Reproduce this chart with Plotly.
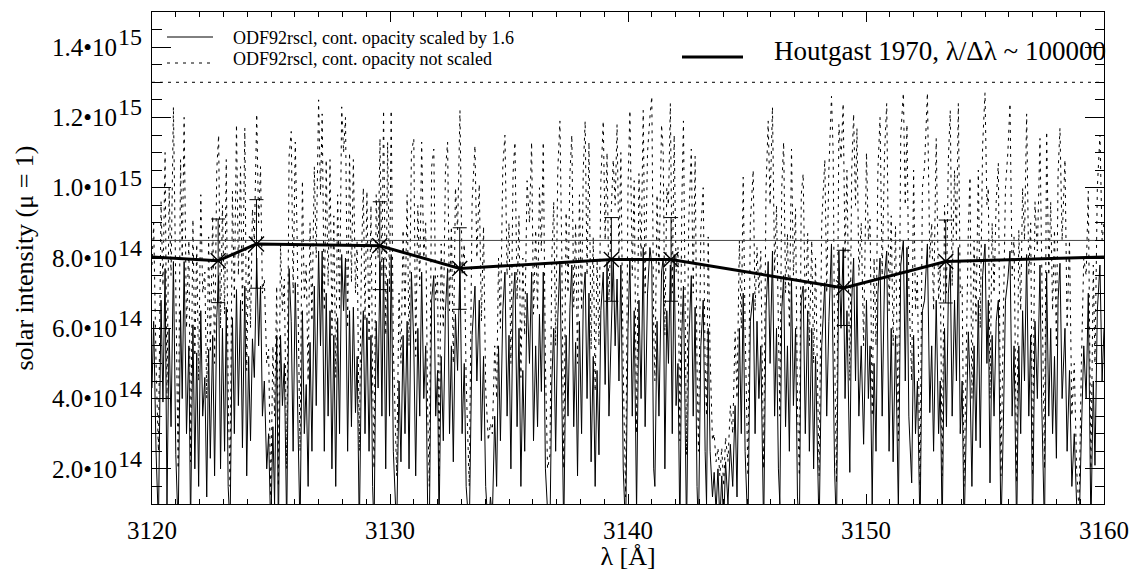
import numpy as np
import plotly.graph_objects as go

# ---------------------------------------------------------------
# Synthetic spectrum (turning points), intensities in units of 1e14
# wl_*: wavelength [Angstrom]; sc_*: cont. opacity scaled by 1.6;
# un_*: cont. opacity not scaled
# ---------------------------------------------------------------
wl_a = [3120.00, 3120.07, 3120.17, 3120.27, 3120.38, 3120.46, 3120.55, 3120.63, 3120.72, 3120.80,
        3120.90, 3121.00, 3121.10, 3121.20, 3121.27, 3121.35, 3121.45, 3121.55, 3121.62, 3121.72,
        3121.80, 3121.88, 3121.96, 3122.05, 3122.13, 3122.22, 3122.30, 3122.38, 3122.45, 3122.55,
        3122.63, 3122.72, 3122.80, 3122.88, 3122.96, 3123.05, 3123.12, 3123.20, 3123.28, 3123.38,
        3123.46, 3123.55, 3123.63, 3123.72, 3123.80, 3123.90, 3123.98, 3124.06, 3124.14, 3124.22,
        3124.30, 3124.40, 3124.48, 3124.56, 3124.64, 3124.72, 3124.82, 3124.90, 3124.99, 3125.08,
        3125.15, 3125.24, 3125.31, 3125.40, 3125.48, 3125.56, 3125.66, 3125.76, 3125.85, 3125.93,
        3126.02, 3126.10, 3126.22, 3126.32, 3126.40, 3126.48, 3126.56, 3126.64, 3126.72, 3126.82,
        3126.90, 3127.00, 3127.08, 3127.15, 3127.24, 3127.32, 3127.40, 3127.48, 3127.56, 3127.64,
        3127.72, 3127.80, 3127.88, 3127.97, 3128.05, 3128.13, 3128.22, 3128.30, 3128.38, 3128.46,
        3128.55, 3128.62, 3128.71, 3128.80, 3128.88, 3128.95, 3129.03, 3129.12, 3129.20, 3129.27,
        3129.33, 3129.42, 3129.50, 3129.58, 3129.66, 3129.73, 3129.82, 3129.90, 3129.98, 3130.05,
        3130.14, 3130.28]
sc_a = [4.3, 6.2, 2.5, 0.4, 6.8, 3.9, 7.7, 1.0, 6.0, 3.2,
        7.9, 2.4, 0.3, 6.5, 4.0, 7.9, 3.0, 5.5, 0.3, 6.1,
        2.0, 5.3, 1.5, 6.5, 3.5, 4.6, 1.2, 5.4, 2.3, 5.8,
        1.8, 6.3, 7.5, 2.0, 6.0, 2.5, 6.6, 1.5, 0.3, 6.3,
        3.0, 7.1, 3.8, 6.8, 2.6, 7.2, 1.8, 5.2, 2.8, 5.7,
        4.6, 8.0, 5.5, 7.2, 3.5, 4.5, 2.0, 3.0, 0.2, 3.2,
        1.0, 5.8, 0.2, 5.8, 3.8, 5.0, 0.3, 7.7, 6.2, 2.5,
        7.3, 4.0, 0.2, 6.5, 3.0, 4.4, 1.5, 5.6, 2.5, 7.2,
        3.8, 8.2, 5.5, 8.2, 2.5, 7.0, 3.5, 6.5, 2.0, 5.8,
        1.5, 6.3, 3.0, 8.1, 6.5, 8.0, 2.5, 6.5, 3.2, 6.6,
        3.6, 5.2, 0.2, 5.0, 6.5, 3.0, 6.3, 2.5, 5.8, 1.5,
        0.2, 6.2, 4.3, 7.9, 3.5, 8.0, 2.0, 7.4, 3.5, 8.1,
        2.5, 0.2]
un_a = [7.8, 9.0, 5.0, 2.5, 9.6, 7.2, 11.0, 4.0, 10.0, 7.5,
        12.3, 6.5, 2.0, 10.8, 8.0, 12.0, 6.0, 8.5, 2.2, 9.1,
        5.2, 8.4, 4.5, 9.8, 7.0, 7.6, 4.0, 8.6, 5.3, 9.2,
        5.0, 10.5, 11.5, 6.0, 9.5, 6.4, 10.8, 4.2, 1.5, 9.9,
        6.8, 11.8, 7.5, 10.6, 6.5, 11.7, 4.8, 8.2, 6.0, 9.4,
        8.5, 12.1, 9.0, 10.6, 7.0, 7.4, 5.0, 5.4, 1.2, 5.5,
        3.5, 7.2, 1.5, 8.4, 6.5, 7.4, 2.0, 10.9, 11.6, 7.0,
        11.3, 8.5, 2.5, 10.2, 6.8, 7.8, 4.5, 9.0, 6.2, 10.6,
        8.0, 12.5, 9.8, 12.1, 6.5, 10.8, 7.2, 10.8, 5.8, 9.2,
        4.6, 9.8, 6.5, 12.3, 11.0, 12.0, 6.0, 11.0, 7.3, 10.8,
        7.0, 8.5, 2.5, 8.0, 10.0, 6.2, 9.9, 5.6, 9.5, 4.5,
        2.0, 9.8, 8.0, 11.4, 7.5, 12.2, 5.8, 11.3, 7.0, 12.2,
        5.5, 1.8]

wl_b = [3130.38, 3130.46, 3130.55, 3130.63, 3130.72, 3130.80, 3130.90, 3131.00, 3131.08, 3131.17,
        3131.25, 3131.33, 3131.42, 3131.50, 3131.58, 3131.65, 3131.75, 3131.84, 3131.92, 3132.00,
        3132.06, 3132.15, 3132.24, 3132.33, 3132.42, 3132.50, 3132.58, 3132.66, 3132.75, 3132.84,
        3132.94, 3133.03, 3133.12, 3133.20, 3133.33, 3133.45, 3133.57, 3133.65, 3133.75, 3133.84,
        3133.93, 3134.02, 3134.13, 3134.22, 3134.30, 3134.40, 3134.48, 3134.56, 3134.64, 3134.74,
        3134.83, 3134.92, 3135.00, 3135.08, 3135.17, 3135.25, 3135.34, 3135.42, 3135.50, 3135.58,
        3135.66, 3135.76, 3135.86, 3135.95, 3136.03, 3136.12, 3136.20, 3136.28, 3136.36, 3136.44,
        3136.53, 3136.62, 3136.72, 3136.80, 3136.88, 3136.96, 3137.05, 3137.14, 3137.22, 3137.30,
        3137.40, 3137.48, 3137.56, 3137.64, 3137.72, 3137.80, 3137.88, 3137.96, 3138.05, 3138.12,
        3138.20, 3138.28, 3138.36, 3138.45, 3138.54, 3138.62, 3138.70, 3138.78, 3138.86, 3138.96,
        3139.04, 3139.12, 3139.20, 3139.30, 3139.38, 3139.46, 3139.54, 3139.62, 3139.70, 3139.80,
        3139.90, 3140.00, 3140.08]
sc_b = [4.5, 2.2, 5.8, 3.0, 6.2, 2.0, 7.6, 5.5, 1.8, 6.0,
        3.5, 7.6, 4.0, 5.5, 1.0, 0.2, 6.8, 7.5, 3.5, 4.8,
        0.3, 5.2, 2.8, 6.5, 7.7, 3.0, 5.5, 2.2, 6.4, 4.8,
        7.9, 3.0, 5.0, 1.5, 0.2, 5.8, 7.2, 4.5, 6.8, 2.8,
        5.2, 1.5, 0.2, 1.2, 0.6, 3.5, 1.5, 5.5, 2.8, 6.5,
        7.6, 3.5, 5.8, 2.0, 6.8, 7.6, 3.2, 6.0, 1.5, 4.8,
        2.5, 7.0, 5.0, 7.6, 2.8, 5.5, 3.2, 6.4, 4.2, 7.6,
        2.0, 0.8, 0.2, 4.5, 6.0, 2.5, 6.3, 7.9, 4.0, 0.2,
        5.8, 3.5, 6.6, 7.8, 3.2, 5.6, 1.8, 6.2, 3.0, 6.8,
        7.6, 4.0, 7.0, 2.2, 5.2, 1.5, 4.8, 2.4, 6.5, 7.6,
        4.4, 7.9, 3.5, 6.0, 8.0, 5.5, 7.4, 4.5, 7.8, 2.0,
        0.2, 6.0, 8.0]
un_b = [7.0, 5.0, 8.8, 6.3, 9.8, 5.5, 11.0, 11.4, 5.2, 9.5,
        7.2, 11.3, 8.0, 9.0, 3.8, 1.5, 10.6, 11.1, 6.8, 7.5,
        1.8, 8.4, 6.0, 10.5, 11.3, 6.5, 8.9, 5.0, 10.0, 8.8,
        12.2, 7.5, 8.4, 4.5, 1.5, 9.6, 11.2, 8.0, 10.1, 6.2,
        8.9, 4.3, 2.8, 3.3, 3.0, 5.5, 4.0, 8.0, 6.0, 10.6,
        11.5, 7.5, 9.0, 5.0, 10.4, 11.3, 6.8, 9.2, 4.6, 8.0,
        5.8, 10.2, 9.0, 11.3, 6.4, 8.8, 6.5, 10.0, 8.2, 11.3,
        5.0, 2.0, 2.4, 8.0, 9.6, 5.5, 10.5, 11.9, 8.0, 2.0,
        9.3, 7.0, 10.4, 11.5, 6.6, 9.0, 5.0, 9.8, 6.5, 10.5,
        11.9, 7.5, 11.3, 5.4, 8.6, 4.2, 8.0, 5.5, 10.2, 11.9,
        8.5, 11.0, 6.8, 9.4, 10.8, 9.5, 11.8, 8.0, 11.0, 4.8,
        1.2, 10.0, 12.2]

wl_c = [3140.18, 3140.26, 3140.36, 3140.46, 3140.55, 3140.64, 3140.72, 3140.82, 3140.92, 3141.00,
        3141.08, 3141.13, 3141.22, 3141.30, 3141.41, 3141.48, 3141.55, 3141.63, 3141.70, 3141.78,
        3141.86, 3141.94, 3142.02, 3142.10, 3142.18, 3142.26, 3142.33, 3142.40, 3142.46, 3142.55,
        3142.66, 3142.74, 3142.82, 3142.90, 3142.96, 3143.06, 3143.16, 3143.24, 3143.30, 3143.37,
        3143.45, 3143.55, 3143.62, 3143.70, 3143.78, 3143.86, 3143.94, 3144.02, 3144.10, 3144.20,
        3144.30, 3144.40, 3144.50, 3144.58, 3144.68, 3144.76, 3144.84, 3144.92, 3145.04, 3145.14,
        3145.26, 3145.34, 3145.42, 3145.50, 3145.58, 3145.70, 3145.80, 3145.89, 3145.97, 3146.07,
        3146.16, 3146.24, 3146.32, 3146.38, 3146.46, 3146.54, 3146.62, 3146.70, 3146.78, 3146.87,
        3146.95, 3147.04, 3147.12, 3147.20, 3147.28, 3147.36, 3147.45, 3147.55, 3147.62, 3147.72,
        3147.80, 3147.88, 3148.03, 3148.14, 3148.27, 3148.35, 3148.44, 3148.55, 3148.62, 3148.68,
        3148.76, 3148.86, 3148.95, 3149.04, 3149.12, 3149.20, 3149.32, 3149.40, 3149.48, 3149.56,
        3149.62, 3149.70, 3149.80, 3149.90, 3150.02, 3150.10, 3150.17]
sc_c = [3.5, 6.5, 0.8, 6.8, 4.0, 8.3, 3.2, 7.0, 8.3, 7.8,
        2.0, 1.5, 6.2, 3.5, 7.6, 8.0, 2.0, 6.5, 5.0, 7.8,
        3.0, 8.1, 3.8, 5.0, 0.2, 5.8, 7.2, 3.5, 0.2, 5.5,
        7.5, 3.5, 6.6, 1.5, 0.2, 5.5, 6.8, 2.5, 1.0, 6.0,
        2.5, 1.2, 1.9, 0.8, 2.0, 0.5, 1.8, 0.4, 2.2, 1.0,
        2.7, 1.5, 3.8, 1.2, 6.0, 3.0, 7.0, 2.5, 0.2, 6.2,
        7.0, 3.0, 6.2, 4.0, 5.5, 0.2, 6.5, 7.9, 5.0, 8.2,
        3.5, 6.0, 2.0, 1.0, 6.5, 7.5, 3.2, 5.5, 2.5, 7.4,
        3.8, 6.0, 1.2, 0.2, 6.8, 7.2, 3.0, 6.5, 2.5, 6.0,
        2.0, 5.2, 0.2, 5.5, 7.3, 3.5, 6.2, 8.4, 5.5, 2.0,
        0.2, 8.2, 6.0, 8.3, 4.0, 6.5, 1.9, 6.8, 8.0, 4.5,
        7.2, 3.5, 5.5, 2.7, 6.8, 4.0, 5.5]
un_c = [7.5, 10.2, 3.0, 10.4, 8.0, 12.2, 7.0, 11.0, 12.0, 12.6,
        6.0, 4.5, 9.8, 7.5, 11.8, 11.0, 5.8, 10.0, 9.5, 12.4,
        7.0, 11.5, 7.6, 8.3, 2.8, 9.5, 11.9, 7.5, 2.4, 9.0,
        11.1, 7.0, 10.9, 5.0, 2.5, 8.8, 10.0, 5.0, 3.5, 8.6,
        5.2, 2.8, 3.0, 2.2, 2.6, 1.8, 2.6, 1.5, 2.9, 2.2,
        3.8, 3.0, 5.9, 4.0, 8.5, 6.0, 10.3, 6.0, 1.8, 9.0,
        10.5, 6.5, 8.3, 7.0, 8.2, 2.0, 10.0, 11.9, 9.5, 12.3,
        7.6, 9.5, 5.5, 3.5, 10.0, 11.3, 7.0, 8.7, 6.0, 11.1,
        7.5, 9.4, 3.8, 1.8, 9.8, 10.4, 6.5, 8.7, 5.5, 8.5,
        5.0, 8.0, 1.8, 9.0, 10.8, 7.0, 10.5, 12.6, 11.0, 5.5,
        1.6, 11.8, 10.8, 12.4, 8.0, 10.5, 4.5, 10.5, 12.1, 9.5,
        11.7, 7.5, 9.0, 5.5, 11.0, 8.5, 9.1]

wl_d = [3150.26, 3150.34, 3150.42, 3150.50, 3150.59, 3150.68, 3150.78, 3150.87, 3150.97, 3151.06,
        3151.14, 3151.24, 3151.36, 3151.46, 3151.57, 3151.65, 3151.72, 3151.80, 3151.92, 3152.00,
        3152.08, 3152.16, 3152.27, 3152.37, 3152.46, 3152.58, 3152.68, 3152.76, 3152.84, 3152.95,
        3153.05, 3153.12, 3153.20, 3153.30, 3153.38, 3153.46, 3153.54, 3153.62, 3153.72, 3153.80,
        3153.88, 3153.96, 3154.04, 3154.12, 3154.20, 3154.30, 3154.37, 3154.45, 3154.54, 3154.62,
        3154.72, 3154.80, 3154.90, 3155.00, 3155.08, 3155.14, 3155.21, 3155.30, 3155.38, 3155.47,
        3155.56, 3155.67, 3155.77, 3155.86, 3155.96, 3156.05, 3156.14, 3156.22, 3156.33, 3156.42,
        3156.50, 3156.58, 3156.66, 3156.75, 3156.84, 3156.92, 3157.00, 3157.10, 3157.20, 3157.31,
        3157.38, 3157.45, 3157.50, 3157.59, 3157.68, 3157.76, 3157.84, 3157.92, 3158.00, 3158.07,
        3158.15, 3158.24, 3158.36, 3158.45, 3158.55, 3158.65, 3158.75, 3158.85, 3158.95, 3159.05,
        3159.15, 3159.25, 3159.34, 3159.45, 3159.55, 3159.62, 3159.72, 3159.83, 3159.92, 3160.00]
sc_d = [1.0, 5.0, 2.5, 7.0, 8.0, 3.5, 7.5, 8.2, 2.5, 6.0,
        2.2, 5.8, 0.8, 7.8, 8.5, 4.5, 8.3, 3.5, 1.6, 5.8,
        3.0, 4.5, 0.2, 6.5, 6.8, 8.4, 3.6, 5.5, 2.5, 6.8,
        3.0, 4.5, 0.2, 6.0, 3.2, 7.0, 7.8, 3.5, 6.8, 4.5,
        8.3, 3.0, 4.5, 0.2, 3.0, 5.9, 4.5, 1.5, 5.5, 2.8,
        6.8, 2.6, 7.5, 8.4, 5.0, 6.8, 1.6, 5.8, 3.5, 6.2,
        6.8, 0.2, 3.2, 6.8, 7.4, 8.2, 3.5, 5.5, 0.2, 5.5,
        3.0, 6.5, 4.5, 8.1, 3.5, 5.8, 0.2, 6.2, 4.0, 7.8,
        4.0, 1.5, 0.2, 7.6, 3.5, 6.0, 3.0, 5.2, 2.3, 6.8,
        7.85, 4.0, 6.0, 2.5, 4.8, 1.5, 3.0, 1.0, 0.2, 3.0,
        5.5, 4.0, 7.0, 0.3, 4.5, 2.1, 6.5, 7.8, 4.5, 6.0]
un_d = [3.5, 8.0, 5.5, 10.5, 12.0, 7.5, 11.0, 12.4, 6.5, 9.2,
        5.5, 8.9, 2.8, 11.5, 12.7, 9.5, 11.8, 7.2, 4.5, 10.5,
        6.5, 7.5, 1.5, 10.0, 10.6, 12.7, 8.0, 9.0, 6.5, 11.4,
        6.8, 7.8, 1.8, 9.5, 7.0, 10.8, 12.2, 7.2, 10.5, 8.5,
        12.4, 7.0, 7.2, 1.5, 4.8, 8.8, 10.3, 4.0, 8.5, 6.2,
        10.5, 6.0, 11.2, 12.7, 9.5, 10.0, 4.0, 9.0, 7.0, 9.6,
        10.7, 1.8, 6.2, 10.0, 11.0, 12.4, 7.5, 8.6, 1.6, 8.8,
        6.5, 10.0, 8.5, 12.1, 7.5, 9.0, 1.8, 9.6, 8.2, 11.4,
        8.0, 4.0, 2.0, 11.6, 7.5, 9.6, 6.5, 8.8, 5.5, 10.4,
        11.7, 8.5, 10.8, 6.0, 8.5, 3.5, 5.0, 2.0, 0.8, 5.0,
        8.0, 7.5, 9.9, 2.0, 7.8, 5.0, 10.0, 11.5, 8.5, 9.0]

# continuum levels (1e14 units)
cont_scaled = 8.5
cont_unscaled = 13.0

# Houtgast (1970) observed intensities with error bars (1e14 units)
hg_wl = [3122.78, 3124.39, 3129.57, 3132.93, 3139.30, 3141.81, 3149.06, 3153.35]
hg_int = [7.92, 8.40, 8.35, 7.70, 7.96, 7.96, 7.15, 7.90]
hg_err = [1.19, 1.26, 1.25, 1.16, 1.19, 1.19, 1.07, 1.18]
# curve continues to the plot edges
hg_edge_wl = [3120.0, 3160.0]
hg_edge_int = [8.03, 8.03]

# axes
x_range = [3120, 3160]
y_range = [1.0, 15.0]
x_ticks = [3120, 3130, 3140, 3150, 3160]
y_ticks = [2.0, 4.0, 6.0, 8.0, 10.0, 12.0, 14.0]
y_mant = ["2.0", "4.0", "6.0", "8.0", "1.0", "1.2", "1.4"]
y_exp = ["14", "14", "14", "14", "15", "15", "15"]

UNIT = 1e14
wl = np.array(wl_a + wl_b + wl_c + wl_d)
scaled = np.array(sc_a + sc_b + sc_c + sc_d) * UNIT
unscaled = np.array(un_a + un_b + un_c + un_d) * UNIT
assert len(wl) == len(scaled) == len(unscaled)

hg_line_wl = [hg_edge_wl[0]] + hg_wl + [hg_edge_wl[1]]
hg_line_int = np.array([hg_edge_int[0]] + hg_int + [hg_edge_int[1]]) * UNIT

FONT = "Liberation Serif"
DOT = "3px,5px"
fig = go.Figure()

fig.add_trace(go.Scatter(x=wl, y=unscaled, mode="lines",
                         line=dict(color="black", width=1, dash=DOT)))
fig.add_trace(go.Scatter(x=wl, y=scaled, mode="lines",
                         line=dict(color="black", width=1)))
fig.add_trace(go.Scatter(x=x_range, y=[cont_unscaled * UNIT] * 2, mode="lines",
                         line=dict(color="black", width=1, dash=DOT)))
fig.add_trace(go.Scatter(x=x_range, y=[cont_scaled * UNIT] * 2, mode="lines",
                         line=dict(color="#444444", width=1)))
fig.add_trace(go.Scatter(x=hg_line_wl, y=hg_line_int, mode="lines",
                         line=dict(color="black", width=3)))
fig.add_trace(go.Scatter(x=hg_wl, y=np.array(hg_int) * UNIT, mode="markers",
                         marker=dict(symbol="x-thin-open", size=15, color="black",
                                     line=dict(color="black", width=1.4)),
                         error_y=dict(type="data", array=np.array(hg_err) * UNIT,
                                      color="black", thickness=1, width=7)))

axis_common = dict(showline=True, linecolor="black", linewidth=1, mirror="allticks",
                   ticks="inside", tickcolor="black", showgrid=False, zeroline=False,
                   tickfont=dict(family=FONT, size=25, color="black"))

fig.update_xaxes(range=x_range, tickmode="array", tickvals=x_ticks, ticklen=10,
                 ticklabelstandoff=4,
                 minor=dict(ticks="inside", ticklen=5, tickmode="linear", tick0=3120, dtick=1,
                            tickcolor="black"),
                 title=dict(text="\u03bb [\u00c5]", font=dict(family=FONT, size=26, color="black"),
                            standoff=4),
                 **axis_common)
# mantissa part of the y labels; the powers of ten are written next to them
fig.update_yaxes(range=[y_range[0] * UNIT, y_range[1] * UNIT], tickmode="array",
                 tickvals=[v * UNIT for v in y_ticks],
                 ticktext=["%s\u202210" % m for m in y_mant], ticklen=19,
                 ticklabelstandoff=29,
                 minor=dict(ticks="inside", ticklen=9.5, tickmode="linear", tick0=0,
                            dtick=0.5 * UNIT, tickcolor="black"),
                 title=dict(text="solar intensity (\u03bc = 1)",
                            font=dict(family=FONT, size=26, color="black"), standoff=10),
                 **axis_common)

# legend samples and texts
W, H = 1137, 571
L, R, T, B = 152, 33, 12, 67
pw, ph = W - L - R, H - T - B


def px(x):
    return (x - L) / pw


def py(y):
    return (H - B - y) / ph


shapes = [
    dict(type="line", xref="paper", yref="paper", x0=px(167), x1=px(213), y0=py(37), y1=py(37),
         line=dict(color="black", width=1)),
    dict(type="line", xref="paper", yref="paper", x0=px(167), x1=px(213), y0=py(63), y1=py(63),
         line=dict(color="black", width=1, dash=DOT)),
    dict(type="line", xref="paper", yref="paper", x0=px(682), x1=px(743), y0=py(57), y1=py(57),
         line=dict(color="black", width=3)),
]
annotations = [
    dict(text="ODF92rscl, cont. opacity scaled by 1.6", xref="paper", yref="paper",
         x=px(231), y=py(38), xanchor="left", yanchor="middle", showarrow=False,
         font=dict(family=FONT, size=18, color="black")),
    dict(text="ODF92rscl, cont. opacity not scaled", xref="paper", yref="paper",
         x=px(231), y=py(59), xanchor="left", yanchor="middle", showarrow=False,
         font=dict(family=FONT, size=18, color="black")),
    dict(text="Houtgast 1970, \u03bb/\u0394\u03bb ~ 100000", xref="paper", yref="paper",
         x=px(772), y=py(51), xanchor="left", yanchor="middle", showarrow=False,
         font=dict(family=FONT, size=27, color="black")),
]
# exponents of the y tick labels, raised beside each mantissa
for v, e in zip(y_ticks, y_exp):
    annotations.append(dict(text=e, xref="paper", yref="y", x=px(116), y=v * UNIT,
                            yshift=10, xanchor="left", yanchor="middle", showarrow=False,
                            font=dict(family=FONT, size=24, color="black")))

fig.update_layout(width=W, height=H, margin=dict(l=L, r=R, t=T, b=B, autoexpand=False),
                  paper_bgcolor="white", plot_bgcolor="white", showlegend=False,
                  font=dict(family=FONT, color="black"),
                  shapes=shapes, annotations=annotations)

fig.write_html("out.html")
